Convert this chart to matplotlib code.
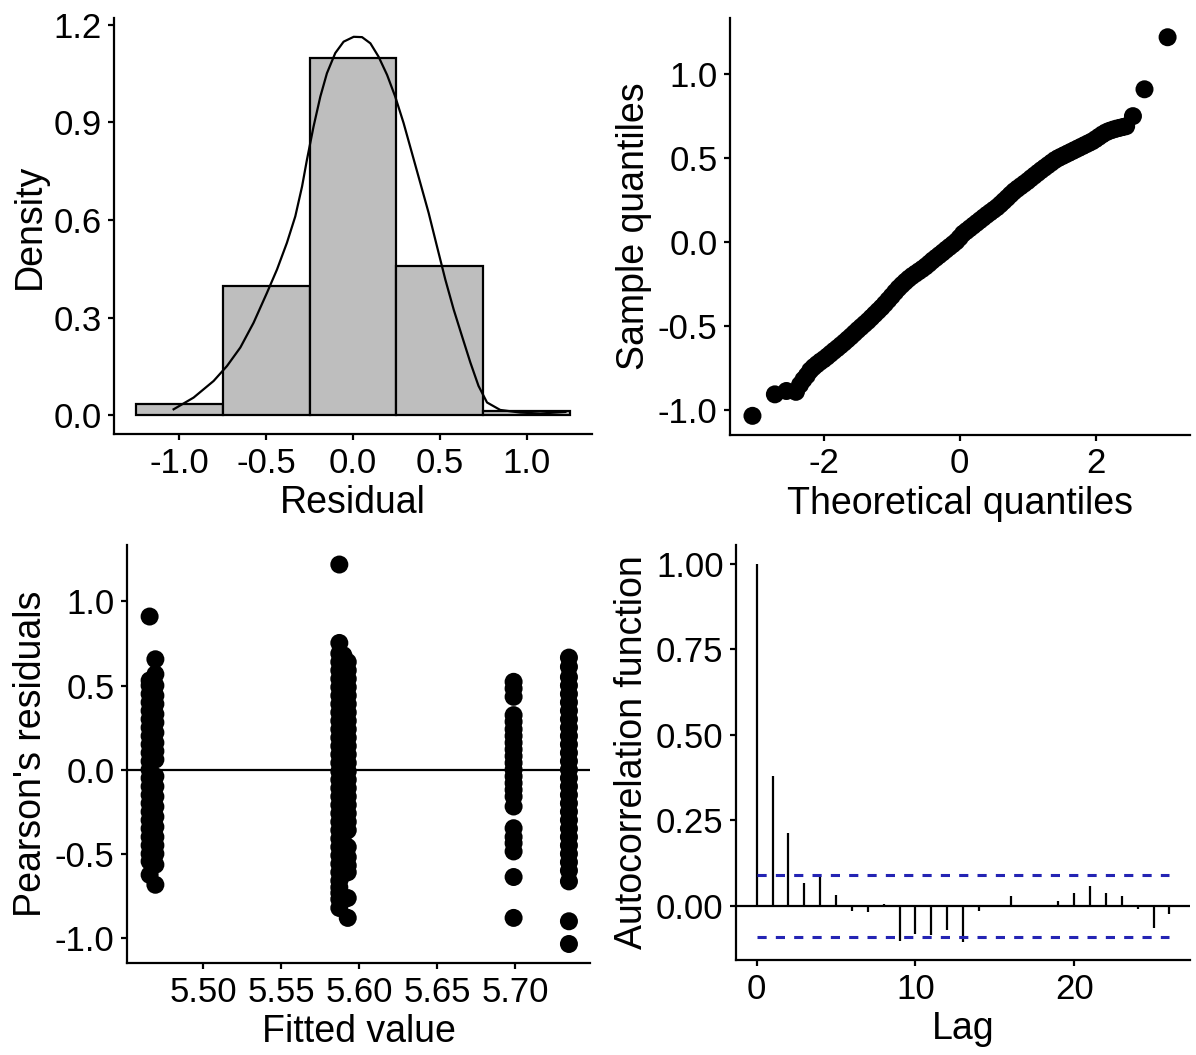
import matplotlib
matplotlib.use("Agg")
import matplotlib.pyplot as plt
import numpy as np

plt.rcParams['font.family'] = ['Liberation Sans', 'DejaVu Sans']

# ---------------- data ----------------
# histogram of residuals (density scale)
hist_edges = [-1.25, -0.75, -0.25, 0.25, 0.75, 1.25]
hist_density = [0.034, 0.397, 1.097, 0.460, 0.012]

# kernel density curve
dens_x = [-1.032, -0.917, -0.802, -0.725, -0.648, -0.572, -0.495, -0.437, -0.380, -0.332,
          -0.293, -0.265, -0.227, -0.188, -0.150, -0.102, -0.054, 0.004, 0.052, 0.100,
          0.147, 0.196, 0.243, 0.291, 0.339, 0.387, 0.435, 0.483, 0.531, 0.579, 0.627,
          0.675, 0.722, 0.771, 0.847, 0.962, 1.077, 1.222]
dens_y = [0.018, 0.054, 0.105, 0.151, 0.208, 0.284, 0.376, 0.448, 0.530, 0.611,
          0.703, 0.785, 0.887, 0.979, 1.051, 1.113, 1.148, 1.163, 1.162, 1.143,
          1.102, 1.046, 0.979, 0.898, 0.806, 0.714, 0.622, 0.519, 0.417, 0.325, 0.243,
          0.162, 0.090, 0.039, 0.016, 0.008, 0.005, 0.010]

# QQ plot (theoretical, sample quantiles) read along the band
qq_theo = [-3.05, -2.72, -2.55, -2.41, -2.35,
           -2.30, -2.25, -2.20, -2.15, -2.10, -2.05, -2.00, -1.95, -1.90, -1.85, -1.80,
           -1.75, -1.70, -1.65, -1.60, -1.55, -1.50, -1.45, -1.40, -1.35, -1.30, -1.25,
           -1.20, -1.15, -1.10, -1.05, -1.00, -0.95, -0.90, -0.85, -0.80, -0.75, -0.70,
           -0.65, -0.60, -0.55, -0.50, -0.45, -0.40, -0.35, -0.30, -0.25, -0.20, -0.15,
           -0.10, -0.05, 0.00, 0.05, 0.10, 0.15, 0.20, 0.25, 0.30, 0.35, 0.40, 0.45, 0.50,
           0.55, 0.60, 0.65, 0.70, 0.75, 0.80, 0.85, 0.90, 0.95, 1.00, 1.05, 1.10, 1.15,
           1.20, 1.25, 1.30, 1.35, 1.40, 1.45, 1.50, 1.55, 1.60, 1.65, 1.70, 1.75, 1.80,
           1.85, 1.90, 1.95, 2.00, 2.05, 2.10, 2.15, 2.20, 2.25, 2.30, 2.35, 2.40, 2.45,
           2.55, 2.72, 3.06]
qq_samp = [-1.035, -0.907, -0.887, -0.892, -0.85,
           -0.820, -0.795, -0.765, -0.745, -0.728, -0.712, -0.698, -0.682, -0.665, -0.648,
           -0.632, -0.615, -0.598, -0.580, -0.562, -0.543, -0.524, -0.506, -0.488, -0.470,
           -0.450, -0.430, -0.410, -0.390, -0.368, -0.345, -0.322, -0.298, -0.275, -0.255,
           -0.236, -0.218, -0.202, -0.188, -0.174, -0.160, -0.145, -0.128, -0.110, -0.094,
           -0.078, -0.062, -0.045, -0.029, -0.013, 0.004, 0.026, 0.050, 0.066, 0.082, 0.098,
           0.114, 0.130, 0.146, 0.162, 0.177, 0.192, 0.207, 0.225, 0.244, 0.263, 0.283,
           0.302, 0.318, 0.333, 0.348, 0.363, 0.380, 0.396, 0.412, 0.428, 0.443, 0.458,
           0.473, 0.488, 0.500, 0.510, 0.520, 0.530, 0.540, 0.550, 0.560, 0.570, 0.580,
           0.590, 0.600, 0.613, 0.627, 0.641, 0.653, 0.662, 0.669, 0.675, 0.680, 0.685,
           0.690, 0.750, 0.910, 1.220]

# residuals vs fitted: sub-columns (fitted value, residuals)
fit_1a = 5.4655
res_1a = [0.91, 0.53, 0.50, 0.45, 0.40, 0.35, 0.30, 0.25, 0.20, 0.15, 0.10, 0.05, 0.00,
          -0.05, -0.10, -0.15, -0.20, -0.25, -0.30, -0.35, -0.40, -0.45, -0.50, -0.545, -0.625]
fit_1b = 5.4692
res_1b = [0.656, 0.567, 0.50, 0.44, 0.39, 0.33, 0.28, 0.22, 0.16, 0.11, 0.06, -0.04, -0.10,
          -0.16, -0.22, -0.28, -0.34, -0.40, -0.45, -0.50, -0.565, -0.684]
fit_2a = 5.5872
res_2a = [1.219, 0.753, 0.69, 0.64, 0.59, 0.54, 0.49, 0.44, 0.39, 0.34, 0.29, 0.24, 0.19,
          0.14, 0.09, 0.04, -0.01, -0.06, -0.11, -0.16, -0.21, -0.26, -0.31, -0.36, -0.41,
          -0.46, -0.51, -0.56, -0.61, -0.66, -0.70, -0.733, -0.77, -0.822]
fit_2b = 5.5898
res_2b = [0.68, 0.62, 0.57, 0.52, 0.47, 0.42, 0.37, 0.32, 0.27, 0.22, 0.17,
          0.12, 0.07, 0.02, -0.03, -0.08, -0.13, -0.18, -0.23, -0.28, -0.33, -0.38, -0.43,
          -0.48, -0.53, -0.58, -0.62]
fit_2c = 5.5926
res_2c = [0.64, 0.59, 0.54, 0.49, 0.44, 0.39, 0.34, 0.29, 0.24, 0.19, 0.14, 0.09, 0.04, -0.01,
          -0.06, -0.11, -0.16, -0.21, -0.26, -0.31, -0.36, -0.46, -0.52, -0.57, -0.61,
          -0.763, -0.881]
fit_3 = 5.6990
res_3 = [0.522, 0.482, 0.433, 0.324, 0.285, 0.24, 0.20, 0.16, 0.12, 0.08, 0.04, 0.00, -0.04,
         -0.08, -0.12, -0.16, -0.219, -0.348, -0.40, -0.437, -0.486, -0.638, -0.881]
fit_4 = 5.7345
res_4 = [0.666, 0.611, 0.55, 0.50, 0.45, 0.40, 0.35, 0.30, 0.25, 0.20, 0.15, 0.10, 0.05, 0.00,
         -0.05, -0.10, -0.15, -0.20, -0.25, -0.30, -0.35, -0.40, -0.45, -0.50, -0.55, -0.60,
         -0.664, -0.901, -1.036]

# autocorrelation function
acf_lag = list(range(27))
acf_val = [1.0, 0.381, 0.213, 0.068, 0.088, 0.032, -0.015, -0.018, 0.006, -0.102, -0.081,
           -0.084, -0.070, -0.104, -0.016, 0.003, 0.029, 0.0, 0.001, 0.016, 0.037, 0.059,
           0.037, 0.030, -0.009, -0.065, -0.023]
acf_ci = 0.09

# ---------------- style ----------------
TICK_FS = 25
LAB_FS = 27
LW = 1.6
PT_S = 168

fig = plt.figure(figsize=(11.96, 10.55), dpi=100)


def style(ax):
    for s in ['top', 'right']:
        ax.spines[s].set_visible(False)
    for s in ['left', 'bottom']:
        ax.spines[s].set_linewidth(LW)
        ax.spines[s].set_color('black')
    ax.tick_params(axis='both', which='major', labelsize=TICK_FS, length=4, width=LW,
                   colors='black', pad=5)


# Top-left: histogram
ax1 = fig.add_axes([0.0953, 0.5886, 0.3997, 0.3944])
widths = np.diff(hist_edges)
ax1.bar(hist_edges[:-1], hist_density, width=widths, align='edge', color='#BEBEBE',
        edgecolor='black', linewidth=LW)
ax1.plot(dens_x, dens_y, color='black', linewidth=LW, solid_joinstyle='round')
ax1.set_xlim(-1.375, 1.375)
ax1.set_ylim(-0.058, 1.221)
ax1.set_xticks([-1.0, -0.5, 0.0, 0.5, 1.0])
ax1.set_xticklabels(['-1.0', '-0.5', '0.0', '0.5', '1.0'])
ax1.set_yticks([0.0, 0.3, 0.6, 0.9, 1.2])
ax1.set_yticklabels(['0.0', '0.3', '0.6', '0.9', '1.2'])
ax1.set_xlabel('Residual', fontsize=LAB_FS, labelpad=4)
ax1.set_ylabel('Density', fontsize=LAB_FS, labelpad=4)
style(ax1)

# Top-right: QQ plot
ax2 = fig.add_axes([0.6104, 0.5877, 0.3846, 0.3953])
ax2.scatter(qq_theo, qq_samp, s=PT_S, color='black', edgecolors='none')
ax2.set_xlim(-3.38, 3.39)
ax2.set_ylim(-1.149, 1.335)
ax2.set_xticks([-2, 0, 2])
ax2.set_xticklabels(['-2', '0', '2'])
ax2.set_yticks([-1.0, -0.5, 0.0, 0.5, 1.0])
ax2.set_yticklabels(['-1.0', '-0.5', '0.0', '0.5', '1.0'])
ax2.set_xlabel('Theoretical quantiles', fontsize=LAB_FS, labelpad=4)
ax2.set_ylabel('Sample quantiles', fontsize=LAB_FS, labelpad=4)
style(ax2)

# Bottom-left: residuals vs fitted
ax3 = fig.add_axes([0.1062, 0.0872, 0.3871, 0.3962])
ax3.axhline(0, color='black', linewidth=LW)
for fv, rv in [(fit_1a, res_1a), (fit_1b, res_1b), (fit_2a, res_2a), (fit_2b, res_2b),
               (fit_2c, res_2c), (fit_3, res_3), (fit_4, res_4)]:
    ax3.scatter([fv] * len(rv), rv, s=PT_S, color='black', edgecolors='none', zorder=3)
ax3.set_xlim(5.451, 5.748)
ax3.set_ylim(-1.149, 1.335)
ax3.set_xticks([5.50, 5.55, 5.60, 5.65, 5.70])
ax3.set_xticklabels(['5.50', '5.55', '5.60', '5.65', '5.70'])
ax3.set_yticks([-1.0, -0.5, 0.0, 0.5, 1.0])
ax3.set_yticklabels(['-1.0', '-0.5', '0.0', '0.5', '1.0'])
ax3.set_xlabel('Fitted value', fontsize=LAB_FS, labelpad=4)
ax3.set_ylabel("Pearson's residuals", fontsize=LAB_FS, labelpad=4)
style(ax3)

# Bottom-right: ACF
ax4 = fig.add_axes([0.6154, 0.09, 0.3796, 0.3934])
ax4.axhline(0, color='black', linewidth=LW)
ax4.vlines(acf_lag, 0, acf_val, color='black', linewidth=LW)
ax4.hlines([acf_ci, -acf_ci], 0, 26, colors='#2424B4', linewidth=2.2,
           linestyles=(0, (3, 3)))
ax4.set_xlim(-1.3, 27.3)
ax4.set_ylim(-0.158, 1.055)
ax4.set_xticks([0, 10, 20])
ax4.set_yticks([0.0, 0.25, 0.5, 0.75, 1.0])
ax4.set_yticklabels(['0.00', '0.25', '0.50', '0.75', '1.00'])
ax4.set_xlabel('Lag', fontsize=LAB_FS, labelpad=4)
ax4.set_ylabel('Autocorrelation function', fontsize=LAB_FS, labelpad=4)
style(ax4)

fig.savefig('out.png', dpi=100)
